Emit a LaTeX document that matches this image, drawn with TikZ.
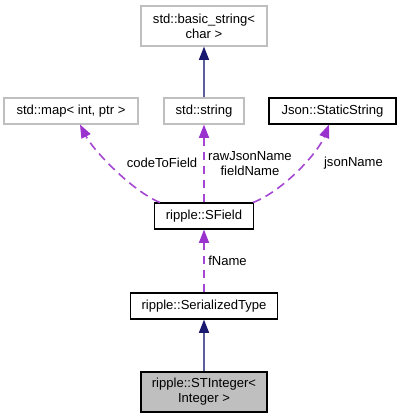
\documentclass[tikz,border=0pt]{standalone}
\usepackage{fontspec}
\setmainfont{Liberation Sans}
\usetikzlibrary{arrows.meta}
\definecolor{edgeblue}{HTML}{191970}
\definecolor{edgepurple}{HTML}{9A32CD}
\definecolor{greyline}{HTML}{BFBFBF}
\definecolor{greyfill}{HTML}{BFBFBF}
\begin{document}
\begin{tikzpicture}[x=0.75pt,y=-0.75pt,
  every node/.style={font=\fontsize{9.8}{11.3}\selectfont, inner sep=0pt, align=center},
  extbox/.style={draw=greyline, line width=0.9pt, fill=white},
  docbox/.style={draw=black, line width=0.9pt, fill=white},
  curbox/.style={draw=black, line width=0.9pt, fill=greyfill},
  inherit/.style={draw=edgeblue!70, line width=1.2pt, -{Triangle[length=10pt,width=7.5pt,fill=edgeblue,color=edgeblue]}},
  usage/.style={draw=edgepurple!90, line width=1.2pt, dash pattern=on 6.5pt off 4pt, -{Triangle[length=10pt,width=7.5pt,fill=edgepurple,color=edgepurple]}},
  lbl/.style={font=\fontsize{9.8}{11.3}\selectfont}
]
\useasboundingbox (0,0) rectangle (400,419);
\fill[white] (0,0) rectangle (400,419);

\node[extbox, minimum width=126*0.75pt, minimum height=40*0.75pt] (bs) at (204,26) {std::basic\_string<\\char >};
\node[extbox, minimum width=134*0.75pt, minimum height=26*0.75pt] (map) at (71,111) {std::map< int, ptr >};
\node[extbox, minimum width=80*0.75pt, minimum height=26*0.75pt] (str) at (204,111) {std::string};
\node[docbox, minimum width=127*0.75pt, minimum height=26*0.75pt] (json) at (332.5,111) {Json::StaticString};
\node[docbox, minimum width=99*0.75pt, minimum height=26*0.75pt] (sf) at (204,216) {ripple::SField};
\node[docbox, minimum width=147*0.75pt, minimum height=26*0.75pt] (ser) at (204,306) {ripple::SerializedType};
\node[curbox, minimum width=126*0.75pt, minimum height=40*0.75pt] (sti) at (204,392) {ripple::STInteger<\\Integer >};

\coordinate (mapTail) at (160,202.5);
\coordinate (mapTip) at (80,124.5);
\coordinate (jsTail) at (253,202.5);
\coordinate (jsTip) at (329,124.5);

\draw[inherit] (str.north) -- (bs.south);
\draw[inherit] (sti.north) -- (ser.south);
\draw[usage] (sf.north) -- (str.south);
\draw[usage] (ser.north) -- (sf.south);
\draw[usage] (mapTail) .. controls (132,191) and (93,150) .. (mapTip);
\draw[usage] (jsTail) .. controls (283,191) and (318,153) .. (jsTip);

\node[lbl] (l1) at (162,163) {codeToField};
\node[lbl] (l2) at (250,163.5) {rawJsonName\\fieldName};
\node[lbl] (l3) at (353.5,163) {jsonName};
\node[lbl] (l4) at (227.5,260.5) {fName};
\end{tikzpicture}
\end{document}
